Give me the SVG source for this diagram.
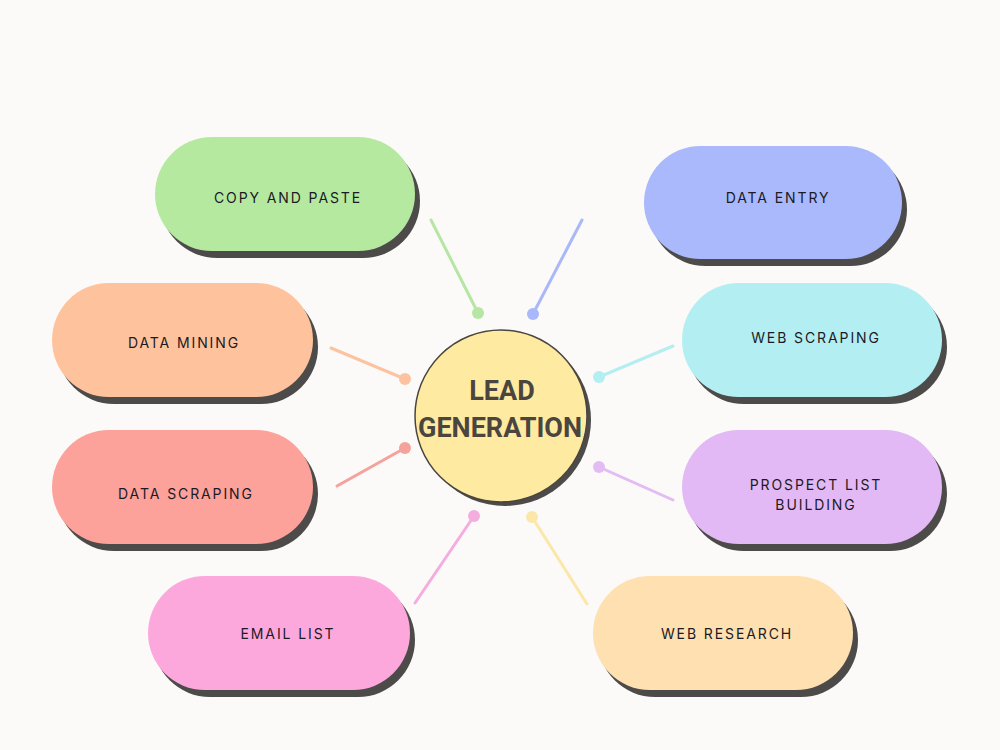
<svg xmlns="http://www.w3.org/2000/svg" width="1000" height="750" viewBox="0 0 1000 750">
<style>
.sh{fill:#4d4b4a}
.lbl{font-family:Inter,"Liberation Sans",sans-serif;font-size:14px;letter-spacing:1.9px;fill:#1c1a24;text-anchor:middle}
.ttl{font-family:Roboto,"Liberation Sans",sans-serif;font-size:27px;font-weight:bold;fill:#4a453e;text-anchor:middle}
.ln{stroke-width:3;stroke-linecap:round;fill:none}
</style>
<rect width="1000" height="750" fill="#fbfaf9"/>
<g id="connectors">
<g stroke="#b5e6a3" fill="#b5e6a3"><line class="ln" x1="431" y1="220" x2="478" y2="313"/><circle cx="478" cy="313" r="6" stroke="none"/></g>
<g stroke="#a9b8f8" fill="#a9b8f8"><line class="ln" x1="582" y1="220" x2="533" y2="314"/><circle cx="533" cy="314" r="6" stroke="none"/></g>
<g stroke="#fdc3a0" fill="#fdc3a0"><line class="ln" x1="331" y1="348" x2="405" y2="379"/><circle cx="405" cy="379" r="6" stroke="none"/></g>
<g stroke="#b3eef1" fill="#b3eef1"><line class="ln" x1="673" y1="346" x2="599" y2="377"/><circle cx="599" cy="377" r="6" stroke="none"/></g>
<g stroke="#f6a29c" fill="#f6a29c"><line class="ln" x1="337" y1="486" x2="405" y2="448"/><circle cx="405" cy="448" r="6" stroke="none"/></g>
<g stroke="#e2bcf3" fill="#e2bcf3"><line class="ln" x1="673" y1="500" x2="599" y2="467"/><circle cx="599" cy="467" r="6" stroke="none"/></g>
<g stroke="#f4addf" fill="#f4addf"><line class="ln" x1="415" y1="603" x2="474" y2="516"/><circle cx="474" cy="516" r="6" stroke="none"/></g>
<g stroke="#fbe7a8" fill="#fbe7a8"><line class="ln" x1="587" y1="604" x2="532" y2="517"/><circle cx="532" cy="517" r="6" stroke="none"/></g>
</g>
<g id="center">
<circle cx="505" cy="420" r="86" class="sh"/>
<circle cx="501" cy="416" r="86" fill="#feeaa0" stroke="#4a453e" stroke-width="1.5"/>
<text class="ttl" x="502" y="400">LEAD</text>
<text class="ttl" x="500" y="437">GENERATION</text>
</g>
<g id="copy-and-paste">
<rect x="160" y="144" width="260" height="114" rx="57" class="sh"/>
<rect x="155" y="137" width="260" height="114" rx="57" fill="#b5e9a0"/>
<text class="lbl" x="288" y="203">COPY AND PASTE</text>
</g>
<g id="data-entry">
<rect x="649" y="153" width="258" height="113" rx="56.5" class="sh"/>
<rect x="644" y="146" width="258" height="113" rx="56.5" fill="#a9b9fb"/>
<text class="lbl" x="778" y="203">DATA ENTRY</text>
</g>
<g id="data-mining">
<rect x="57" y="290" width="261" height="114" rx="57" class="sh"/>
<rect x="52" y="283" width="261" height="114" rx="57" fill="#fec39c"/>
<text class="lbl" x="184" y="348">DATA MINING</text>
</g>
<g id="web-scraping">
<rect x="687" y="290" width="260" height="114" rx="57" class="sh"/>
<rect x="682" y="283" width="260" height="114" rx="57" fill="#b3eff2"/>
<text class="lbl" x="816" y="343">WEB SCRAPING</text>
</g>
<g id="data-scraping">
<rect x="57" y="437" width="261" height="114" rx="57" class="sh"/>
<rect x="52" y="430" width="261" height="114" rx="57" fill="#fda19b"/>
<text class="lbl" x="186" y="499">DATA SCRAPING</text>
</g>
<g id="prospect-list-building">
<rect x="687" y="437" width="260" height="114" rx="57" class="sh"/>
<rect x="682" y="430" width="260" height="114" rx="57" fill="#e2b9f4"/>
<text class="lbl" x="816" y="490">PROSPECT LIST</text>
<text class="lbl" x="816" y="510">BUILDING</text>
</g>
<g id="email-list">
<rect x="153" y="583" width="262" height="114" rx="57" class="sh"/>
<rect x="148" y="576" width="262" height="114" rx="57" fill="#fda8dd"/>
<text class="lbl" x="288" y="639">EMAIL LIST</text>
</g>
<g id="web-research">
<rect x="598" y="583" width="260" height="114" rx="57" class="sh"/>
<rect x="593" y="576" width="260" height="114" rx="57" fill="#fee0b1"/>
<text class="lbl" x="727" y="639">WEB RESEARCH</text>
</g>
</svg>
